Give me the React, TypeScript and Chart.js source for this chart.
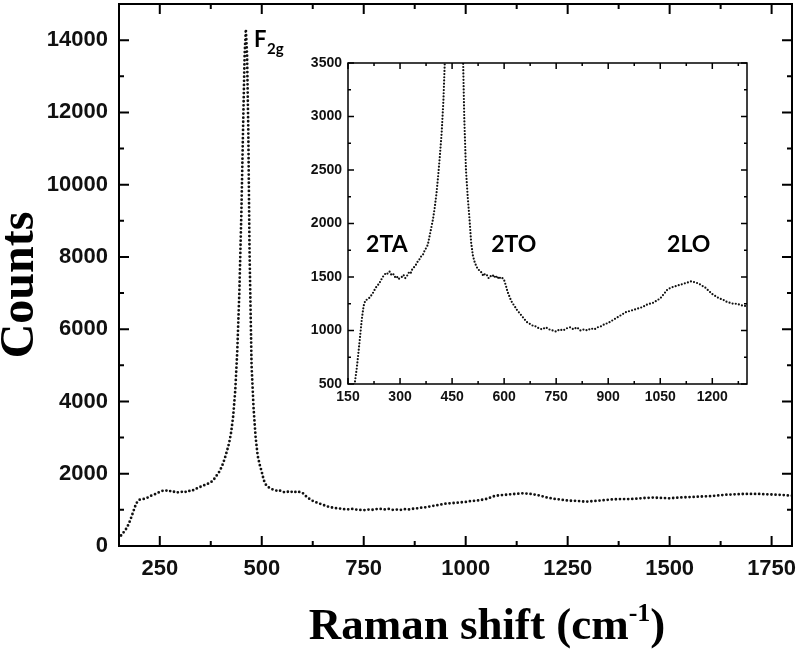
import React, { useEffect, useRef } from 'react';
import { Chart, registerables } from 'chart.js';

Chart.register(...registerables);

// Raman shift (cm-1) and counts
const shifts = [
  155, 160, 165, 170, 175, 180, 185, 190, 195, 200, 205, 210, 215, 220, 225, 230, 235, 240, 245, 250,
  255, 260, 265, 270, 275, 280, 285, 290, 295, 300, 305, 310, 315, 320, 325, 330, 335, 340, 345, 350,
  355, 360, 365, 370, 375, 380, 385, 390, 395, 400, 405, 410, 415, 420, 425, 430, 435, 440, 445, 450,
  455, 458, 461, 464, 467, 470, 475, 480, 485, 490, 495, 500, 505, 510, 515, 520, 525, 530, 535, 540,
  545, 550, 555, 560, 565, 570, 575, 580, 585, 590, 595, 600, 605, 610, 615, 620, 625, 630, 635, 640,
  645, 650, 655, 660, 665, 670, 675, 680, 685, 690, 695, 700, 710, 720, 730, 740, 750, 760, 770, 780,
  790, 800, 810, 820, 830, 840, 850, 860, 870, 880, 890, 900, 910, 920, 930, 940, 950, 960, 970, 980,
  990, 1000, 1010, 1020, 1030, 1040, 1050, 1060, 1070, 1080, 1090, 1100, 1110, 1120, 1130, 1140, 1150, 1160, 1170, 1180,
  1190, 1200, 1210, 1220, 1230, 1240, 1250, 1260, 1270, 1280, 1290, 1300, 1320, 1340, 1360, 1380, 1400, 1420, 1440, 1460,
  1480, 1500, 1520, 1540, 1560, 1580, 1600, 1620, 1640, 1660, 1680, 1700, 1720, 1740, 1760, 1780, 1800,
];
const counts = [
  290, 360, 430, 520, 640, 790, 950, 1110, 1230, 1280, 1290, 1300, 1320, 1340, 1370, 1400, 1420, 1440, 1470, 1500,
  1520, 1540, 1530, 1550, 1520, 1530, 1500, 1510, 1480, 1490, 1500, 1520, 1490, 1510, 1540, 1530, 1570, 1590, 1610, 1640,
  1660, 1690, 1700, 1740, 1770, 1800, 1880, 1960, 2040, 2150, 2280, 2450, 2640, 2850, 3150, 3600, 4300, 5400, 7000, 9200,
  12000, 13600, 14300, 13600, 11500, 8200, 5000, 3800, 3000, 2500, 2250, 2050, 1820, 1700, 1640, 1600, 1570, 1560, 1540, 1510,
  1530, 1520, 1490, 1510, 1500, 1520, 1490, 1510, 1480, 1500, 1490, 1470, 1420, 1360, 1320, 1280, 1250, 1230, 1200, 1180,
  1160, 1140, 1120, 1100, 1080, 1070, 1060, 1050, 1040, 1040, 1030, 1020, 1010, 1030, 1010, 1000, 990, 1010, 1000, 1020,
  1030, 1010, 1030, 1000, 1010, 1000, 1020, 1010, 1030, 1040, 1060, 1070, 1090, 1110, 1130, 1150, 1170, 1180, 1190, 1200,
  1210, 1220, 1240, 1250, 1260, 1280, 1300, 1340, 1380, 1400, 1410, 1420, 1430, 1440, 1450, 1460, 1450, 1440, 1420, 1400,
  1370, 1340, 1320, 1300, 1290, 1270, 1260, 1250, 1250, 1240, 1230, 1230, 1250, 1270, 1290, 1300, 1300, 1310, 1330, 1340,
  1330, 1320, 1340, 1350, 1360, 1370, 1380, 1400, 1420, 1430, 1440, 1440, 1440, 1430, 1420, 1410, 1390,
];

const mainXTicks = [250, 500, 750, 1000, 1250, 1500, 1750];
const mainYTicks = [0, 2000, 4000, 6000, 8000, 10000, 12000, 14000];
const insetXTicks = [150, 300, 450, 600, 750, 900, 1050, 1200];
const insetYTicks = [500, 1000, 1500, 2000, 2500, 3000, 3500];

const insetLabels = ['2TA', '2TO', '2LO'];
const insetLabelX = [262, 628, 1132];
const insetLabelY = [1800, 1800, 1800];

const peakLabel = 'F';
const peakSub = '2g';
const peakLabelX = 481;
const peakLabelY = 13800;

const xTitle = 'Raman shift (cm';
const xTitleSup = '-1';
const xTitleEnd = ')';
const yTitle = 'Counts';

const framePlugin = (o: any) => ({
  id: 'frameTicks',
  afterDraw(chart: any) {
    const { ctx, chartArea: a } = chart;
    const x = chart.scales.x;
    const y = chart.scales.y;
    ctx.save();
    ctx.strokeStyle = '#000';
    ctx.lineWidth = o.lw;
    ctx.strokeRect(a.left, a.top, a.right - a.left, a.bottom - a.top);
    ctx.beginPath();
    let i = 0;
    for (let v = o.xStart; v <= x.max + 1e-6; v += o.xMinor, i++) {
      const px = x.getPixelForValue(v);
      const len = i % 2 === 0 ? o.major : o.minor;
      ctx.moveTo(px, a.bottom);
      ctx.lineTo(px, a.bottom - len);
      ctx.moveTo(px, a.top);
      ctx.lineTo(px, a.top + len);
    }
    i = 0;
    for (let v = o.yStart; v <= y.max + 1e-6; v += o.yMinor, i++) {
      const py = y.getPixelForValue(v);
      const len = i % 2 === 0 ? o.major : o.minor;
      ctx.moveTo(a.left, py);
      ctx.lineTo(a.left + len, py);
      ctx.moveTo(a.right, py);
      ctx.lineTo(a.right - len, py);
    }
    ctx.stroke();
    ctx.restore();
  },
});

const mainTextPlugin = {
  id: 'mainText',
  afterDraw(chart: any) {
    const { ctx } = chart;
    const x = chart.scales.x;
    const y = chart.scales.y;
    ctx.save();
    ctx.fillStyle = '#000';
    // peak label
    const fx = x.getPixelForValue(peakLabelX);
    const fy = y.getPixelForValue(peakLabelY);
    ctx.textBaseline = 'alphabetic';
    ctx.textAlign = 'left';
    ctx.font = 'bold 22px Lato';
    ctx.fillText(peakLabel, fx, fy);
    const fw = ctx.measureText(peakLabel).width;
    ctx.font = 'bold 15px Lato';
    ctx.fillText(peakSub, fx + fw + 0.5, fy + 7);
    // x title with superscript
    ctx.font = 'bold 45px "Liberation Serif"';
    const wa = ctx.measureText(xTitle).width;
    const wc = ctx.measureText(xTitleEnd).width;
    ctx.font = 'bold 26px "Liberation Serif"';
    const wb = ctx.measureText(xTitleSup).width;
    const total = wa + wb + wc;
    const sx = 487 - total / 2;
    const base = 639;
    ctx.font = 'bold 45px "Liberation Serif"';
    ctx.fillText(xTitle, sx, base);
    ctx.fillText(xTitleEnd, sx + wa + wb, base);
    ctx.font = 'bold 26px "Liberation Serif"';
    ctx.fillText(xTitleSup, sx + wa, base - 18);
    // y title
    ctx.translate(33, 285);
    ctx.rotate(-Math.PI / 2);
    ctx.textAlign = 'center';
    ctx.font = 'bold 48px "Liberation Serif"';
    ctx.fillText(yTitle, 0, 0);
    ctx.restore();
  },
};

const insetTextPlugin = {
  id: 'insetText',
  afterDraw(chart: any) {
    const { ctx } = chart;
    const x = chart.scales.x;
    const y = chart.scales.y;
    ctx.save();
    ctx.fillStyle = '#000';
    ctx.font = 'bold 23px Lato';
    ctx.textAlign = 'center';
    ctx.textBaseline = 'middle';
    insetLabels.forEach((t, i) => {
      ctx.fillText(t, x.getPixelForValue(insetLabelX[i]), y.getPixelForValue(insetLabelY[i]));
    });
    ctx.restore();
  },
};

const points = shifts.map((s, i) => ({ x: s, y: counts[i] }));

const fitX = (h: number) => (s: any) => {
  s.height = h;
  s.paddingLeft = 0;
  s.paddingRight = 0;
  s.paddingTop = 0;
  s.paddingBottom = 0;
};
const fitY = (w: number) => (s: any) => {
  s.width = w;
  s.paddingLeft = 0;
  s.paddingRight = 0;
  s.paddingTop = 0;
  s.paddingBottom = 0;
};

export default function App() {
  const mainRef = useRef<HTMLCanvasElement>(null);
  const insetRef = useRef<HTMLCanvasElement>(null);

  useEffect(() => {
    const tickFontMain = { family: '"Liberation Sans", Arial', size: 22, weight: 'bold' as const };
    const main = new Chart(mainRef.current as HTMLCanvasElement, {
      type: 'line',
      data: {
        datasets: [
          {
            data: points,
            borderColor: '#111',
            borderWidth: 2.8,
            borderDash: [0, 4.1],
            borderCapStyle: 'round',
            pointRadius: 0,
            tension: 0,
            fill: false,
          },
        ],
      },
      options: {
        responsive: false,
        animation: false,
        events: [],
        layout: { padding: { left: 0, top: 4, right: 8, bottom: 0 } },
        plugins: { legend: { display: false }, tooltip: { enabled: false } },
        scales: {
          x: {
            type: 'linear',
            min: 150,
            max: 1800,
            grid: { display: false, drawTicks: false },
            border: { display: false },
            afterBuildTicks: (s: any) => {
              s.ticks = mainXTicks.map((v) => ({ value: v }));
            },
            afterFit: fitX(103),
            ticks: {
              autoSkip: false,
              maxRotation: 0,
              padding: 10,
              color: '#111',
              font: tickFontMain,
              callback: (v: any) => String(v),
            },
          },
          y: {
            type: 'linear',
            min: 0,
            max: 15000,
            grid: { display: false, drawTicks: false },
            border: { display: false },
            afterBuildTicks: (s: any) => {
              s.ticks = mainYTicks.map((v) => ({ value: v }));
            },
            afterFit: fitY(119),
            ticks: {
              autoSkip: false,
              padding: 11,
              color: '#111',
              font: tickFontMain,
              callback: (v: any) => String(v),
            },
          },
        },
      },
      plugins: [
        framePlugin({ lw: 2, xStart: 250, xMinor: 125, yStart: 0, yMinor: 1000, major: 10, minor: 5 }),
        mainTextPlugin,
      ],
    } as any);

    const tickFontInset = { family: '"Liberation Sans", Arial', size: 14, weight: 'bold' as const };
    const inset = new Chart(insetRef.current as HTMLCanvasElement, {
      type: 'line',
      data: {
        datasets: [
          {
            data: points,
            borderColor: '#111',
            borderWidth: 2.2,
            borderDash: [0, 3.2],
            borderCapStyle: 'round',
            pointRadius: 0,
            tension: 0,
            fill: false,
          },
        ],
      },
      options: {
        responsive: false,
        animation: false,
        events: [],
        layout: { padding: { left: 0, top: 23, right: 23, bottom: 0 } },
        plugins: { legend: { display: false }, tooltip: { enabled: false } },
        scales: {
          x: {
            type: 'linear',
            min: 150,
            max: 1300,
            grid: { display: false, drawTicks: false },
            border: { display: false },
            afterBuildTicks: (s: any) => {
              s.ticks = insetXTicks.map((v) => ({ value: v }));
            },
            afterFit: fitX(36),
            ticks: {
              autoSkip: false,
              maxRotation: 0,
              padding: 5,
              color: '#111',
              font: tickFontInset,
              callback: (v: any) => String(v),
            },
          },
          y: {
            type: 'linear',
            min: 500,
            max: 3500,
            grid: { display: false, drawTicks: false },
            border: { display: false },
            afterBuildTicks: (s: any) => {
              s.ticks = insetYTicks.map((v) => ({ value: v }));
            },
            afterFit: fitY(48),
            ticks: {
              autoSkip: false,
              padding: 6,
              color: '#111',
              font: tickFontInset,
              callback: (v: any) => String(v),
            },
          },
        },
      },
      plugins: [
        framePlugin({ lw: 1.5, xStart: 150, xMinor: 75, yStart: 500, yMinor: 250, major: 6, minor: 3 }),
        insetTextPlugin,
      ],
    } as any);

    return () => {
      main.destroy();
      inset.destroy();
    };
  }, []);

  return (
    <div style={{ position: 'fixed', left: 0, top: 0, width: 800, height: 649, background: '#fff' }}>
      <canvas ref={mainRef} width={800} height={649} style={{ position: 'absolute', left: 0, top: 0 }} />
      <canvas ref={insetRef} width={470} height={380} style={{ position: 'absolute', left: 300, top: 40 }} />
    </div>
  );
}
